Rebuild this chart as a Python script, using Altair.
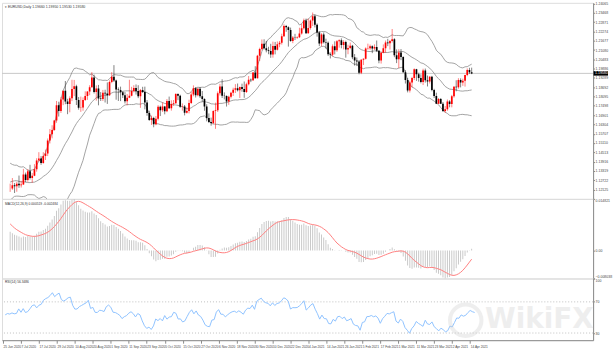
import altair as alt
import pandas as pd

# ---------------- data (EURUSD daily, 26 Jun 2020 .. 16 Apr 2021) ----------------
closes = [1.1219,1.1240,1.1233,1.1250,1.1240,1.1245,1.1309,1.1274,1.1329,1.1287,
1.1300,1.1343,1.1398,1.1412,1.1383,1.1428,1.1444,1.1527,1.1568,1.1595,
1.1655,1.1753,1.1716,1.1790,1.1846,1.1778,1.1762,1.1799,1.1858,1.1876,
1.1787,1.1737,1.1739,1.1787,1.1813,1.1842,1.1869,1.1932,1.1838,1.1861,
1.1796,1.1793,1.1834,1.1829,1.1818,1.1903,1.1936,1.1913,1.1855,1.1851,
1.1837,1.1818,1.1779,1.1802,1.1815,1.1845,1.1864,1.1845,1.1812,1.1851,
1.1838,1.1771,1.1703,1.1659,1.1672,1.1632,1.1666,1.1743,1.1721,1.1746,
1.1715,1.1781,1.1734,1.1761,1.1766,1.1825,1.1814,1.1744,1.1746,1.1705,
1.1717,1.1768,1.1823,1.1862,1.1817,1.1860,1.1812,1.1794,1.1746,1.1672,
1.1646,1.1640,1.1716,1.1722,1.1830,1.1874,1.1814,1.1813,1.1778,1.1808,
1.1834,1.1853,1.1862,1.1849,1.1871,1.1857,1.1838,1.1889,1.1917,1.1914,
1.1963,1.1927,1.2072,1.2114,1.2149,1.2120,1.2106,1.2102,1.2079,1.2134,
1.2110,1.2145,1.2155,1.2197,1.2263,1.2255,1.2236,1.2166,1.2188,1.2187,
1.2190,1.2214,1.2248,1.2298,1.2216,1.2250,1.2297,1.2325,1.2271,1.2221,
1.2150,1.2207,1.2158,1.2155,1.2081,1.2077,1.2132,1.2106,1.2165,1.2170,
1.2140,1.2160,1.2111,1.2121,1.2136,1.2061,1.2040,1.2034,1.1962,1.2045,
1.2052,1.2118,1.2120,1.2133,1.2118,1.2128,1.2104,1.2041,1.2091,1.2120,
1.2156,1.2151,1.2166,1.2177,1.2075,1.2049,1.2092,1.2063,1.1966,1.1915,
1.1848,1.1899,1.1929,1.1985,1.1952,1.1929,1.1902,1.1977,1.1914,1.1906,
1.1937,1.1851,1.1813,1.1763,1.1794,1.1763,1.1716,1.1727,1.1778,1.1762,
1.1812,1.1873,1.1869,1.1915,1.1899,1.1911,1.1948,1.1979,1.1966,1.1958]

highs = [1.1250,1.1286,1.1254,1.1262,1.1302,1.1268,1.1345,1.1321,1.1344,1.1371,
1.1318,1.1375,1.1413,1.1452,1.1427,1.1452,1.1469,1.1540,1.1601,1.1625,
1.1660,1.1781,1.1776,1.1807,1.1847,1.1909,1.1795,1.1811,1.1917,1.1916,
1.1885,1.1806,1.1809,1.1804,1.1843,1.1843,1.1882,1.1966,1.1950,1.1881,
1.1884,1.1838,1.1852,1.1853,1.1900,1.1913,1.1966,1.2011,1.1918,1.1868,
1.1873,1.1843,1.1838,1.1826,1.1917,1.1872,1.1882,1.1887,1.1882,1.1858,
1.1872,1.1873,1.1787,1.1718,1.1687,1.1679,1.1684,1.1754,1.1751,1.1771,
1.1749,1.1793,1.1809,1.1785,1.1787,1.1831,1.1830,1.1821,1.1765,1.1755,
1.1740,1.1789,1.1840,1.1881,1.1870,1.1866,1.1870,1.1845,1.1798,1.1760,
1.1701,1.1674,1.1721,1.1770,1.1842,1.1891,1.1920,1.1836,1.1817,1.1815,
1.1840,1.1866,1.1889,1.1893,1.1873,1.1892,1.1906,1.1898,1.1941,1.1925,
1.1966,1.2004,1.2077,1.2123,1.2176,1.2177,1.2167,1.2129,1.2148,1.2162,
1.2160,1.2163,1.2166,1.2213,1.2273,1.2269,1.2260,1.2252,1.2198,1.2212,
1.2196,1.2251,1.2276,1.2310,1.2310,1.2310,1.2304,1.2349,1.2337,1.2279,
1.2229,1.2216,1.2221,1.2181,1.2163,1.2093,1.2144,1.2164,1.2172,1.2177,
1.2183,1.2171,1.2168,1.2142,1.2156,1.2141,1.2082,1.2060,1.2044,1.2050,
1.2055,1.2125,1.2149,1.2143,1.2138,1.2144,1.2169,1.2108,1.2096,1.2144,
1.2169,1.2180,1.2172,1.2243,1.2184,1.2112,1.2113,1.2114,1.2068,1.1979,
1.1929,1.1911,1.1936,1.1990,1.1987,1.1962,1.1952,1.1988,1.1989,1.1944,
1.1941,1.1942,1.1859,1.1834,1.1800,1.1800,1.1774,1.1749,1.1790,1.1786,
1.1820,1.1877,1.1914,1.1927,1.1926,1.1924,1.1949,1.1990,1.1994,1.1995]

lows = [1.1197,1.1210,1.1190,1.1198,1.1223,1.1225,1.1242,1.1260,1.1262,1.1277,
1.1255,1.1298,1.1327,1.1392,1.1371,1.1378,1.1402,1.1427,1.1508,1.1541,
1.1589,1.1641,1.1681,1.1704,1.1754,1.1760,1.1696,1.1708,1.1780,1.1812,
1.1755,1.1725,1.1711,1.1718,1.1781,1.1788,1.1818,1.1866,1.1829,1.1783,
1.1753,1.1781,1.1781,1.1771,1.1762,1.1813,1.1895,1.1903,1.1789,1.1781,
1.1780,1.1800,1.1765,1.1753,1.1799,1.1811,1.1836,1.1822,1.1799,1.1737,
1.1832,1.1727,1.1686,1.1653,1.1627,1.1612,1.1625,1.1656,1.1684,1.1711,
1.1695,1.1709,1.1730,1.1719,1.1750,1.1763,1.1786,1.1737,1.1719,1.1688,
1.1700,1.1701,1.1761,1.1811,1.1803,1.1810,1.1800,1.1776,1.1718,1.1650,
1.1639,1.1622,1.1631,1.1602,1.1710,1.1816,1.1800,1.1791,1.1745,1.1756,
1.1797,1.1813,1.1832,1.1842,1.1800,1.1840,1.1801,1.1832,1.1881,1.1902,
1.1909,1.1925,1.1925,1.2038,1.2106,1.2112,1.2093,1.2081,1.2058,1.2059,
1.2080,1.2105,1.2126,1.2143,1.2192,1.2225,1.2130,1.2161,1.2152,1.2172,
1.2180,1.2185,1.2207,1.2239,1.2211,1.2213,1.2239,1.2262,1.2253,1.2194,
1.2133,1.2132,1.2150,1.2117,1.2070,1.2054,1.2067,1.2080,1.2096,1.2123,
1.2119,1.2112,1.2059,1.2081,1.2113,1.2049,1.2008,1.2005,1.1952,1.1953,
1.2012,1.2047,1.2110,1.2110,1.2088,1.2108,1.2095,1.2023,1.2021,1.2087,
1.2090,1.2133,1.2111,1.2156,1.2062,1.2024,1.1992,1.2043,1.1962,1.1893,
1.1836,1.1835,1.1868,1.1915,1.1910,1.1905,1.1894,1.1883,1.1899,1.1874,
1.1893,1.1843,1.1800,1.1761,1.1762,1.1762,1.1710,1.1704,1.1718,1.1740,
1.1740,1.1802,1.1843,1.1860,1.1868,1.1878,1.1873,1.1940,1.1955,1.1953]

first_open = 1.1219
opens = [first_open] + closes[:-1]

# closes before the visible window (Apr 2020 .. 25 Jun 2020), used only to warm up the indicators
warmup_closes = [1.0962,1.0856,1.0804,1.0792,1.0891,1.0856,1.0935,1.0937,1.0913,1.0979,
1.0903,1.0860,1.0876,1.0860,1.0859,1.0822,1.0777,1.0821,1.0824,1.0820,1.0874,1.0955,
1.0982,1.0908,1.0838,1.0795,1.0834,1.0839,1.0808,1.0849,1.0817,1.0804,1.0819,1.0915,
1.0922,1.0975,1.0950,1.0900,1.0900,1.0980,1.1007,1.1077,1.1100,
1.1135,1.1171,1.1235,1.1337,1.1290,1.1293,1.1343,1.1374,1.1300,1.1256,1.1325,1.1264,
1.1245,1.1204,1.1177,1.1257,1.1307,1.1250,1.1219]

time_labels = ["25 Jun 2020","7 Jul 2020","17 Jul 2020","29 Jul 2020","10 Aug 2020",
"20 Aug 2020","1 Sep 2020","11 Sep 2020","23 Sep 2020","5 Oct 2020","15 Oct 2020",
"27 Oct 2020","6 Nov 2020","18 Nov 2020","30 Nov 2020","10 Dec 2020","22 Dec 2020",
"4 Jan 2021","14 Jan 2021","26 Jan 2021","5 Feb 2021","17 Feb 2021","1 Mar 2021",
"11 Mar 2021","23 Mar 2021","2 Apr 2021","14 Apr 2021"]
time_label_bars = [-1 + 8 * k for k in range(len(time_labels))]

price_ticks = [1.24065,1.23468,1.22871,1.22274,1.21677,1.21080,1.20483,1.19886,1.19289,
1.18692,1.18095,1.17498,1.16901,1.16304,1.15707,1.15110,1.14513,1.13916,1.13319,
1.12722,1.12125]

rsi_levels = [70, 30]
symbol = "EURUSD,Daily"

# ---------------- indicators (MACD 12,26,9 and RSI 14, as in MT4) ----------------
allc = warmup_closes + closes
W = len(warmup_closes)
n = len(closes)

def ema(vals, period):
    k = 2.0 / (period + 1)
    out = [vals[0]]
    for v in vals[1:]:
        out.append(out[-1] + k * (v - out[-1]))
    return out

e12 = ema(allc, 12)
e26 = ema(allc, 26)
macd_all = [a - b for a, b in zip(e12, e26)]
sig_all = [None] * len(allc)
for i in range(8, len(allc)):
    sig_all[i] = sum(macd_all[i - 8:i + 1]) / 9.0

rsi_all = [None] * len(allc)
gains = [max(allc[i] - allc[i - 1], 0) for i in range(1, len(allc))]
losses = [max(allc[i - 1] - allc[i], 0) for i in range(1, len(allc))]
ag = sum(gains[:14]) / 14.0
al = sum(losses[:14]) / 14.0
for i in range(14, len(allc)):
    if i > 14:
        ag = (ag * 13 + gains[i - 1]) / 14.0
        al = (al * 13 + losses[i - 1]) / 14.0
    rsi_all[i] = 100.0 if al == 0 else 100 - 100 / (1 + ag / al)

df = pd.DataFrame({
    "idx": list(range(n)),
    "open": opens, "high": highs, "low": lows, "close": closes,
    "macd": macd_all[W:], "signal": sig_all[W:], "rsi": rsi_all[W:],
})
df["dir"] = ["up" if c >= o else "down" for o, c in zip(opens, closes)]

dfall = pd.DataFrame({"idx": list(range(-W, n)), "close": allc})

# ---------------- scales ----------------
PW = 594
PX_PER_BAR = 2.257
X0 = -1.443
xs = alt.Scale(domain=[X0, X0 + PW / PX_PER_BAR], nice=False, zero=False)
ys = alt.Scale(domain=[1.11522, 1.24110], nice=False, zero=False)

FONT = "Liberation Sans"
LFS = 3.5
one = pd.DataFrame({"a": [0]})
last = df.iloc[-1]

def raxis(**kw):
    return alt.Axis(orient="right", title=None, grid=False, labelFontSize=LFS, labelPadding=0.5,
                    tickSize=1.5, domainColor="#8a8a8a", tickColor="#8a8a8a", labelColor="#444",
                    labelFont=FONT, labelOverlap=False, **kw)

# ---------------- main price panel ----------------
yaxis = raxis(values=price_ticks, format=".5f")

base = alt.Chart(df)
priceline = alt.Chart(pd.DataFrame({"p": [float(last.close)]})).mark_rule(
    color="#c8c8c8", strokeWidth=1).encode(y=alt.Y("p:Q", scale=ys, axis=yaxis))

bands = alt.Chart(dfall).transform_window(
    mid="mean(close)", sd="stdevp(close)", frame=[-19, 0], sort=[alt.SortField("idx")]
).transform_calculate(
    up="datum.mid + 2*datum.sd", dn="datum.mid - 2*datum.sd"
).transform_filter("datum.idx >= 0").transform_fold(
    ["mid", "up", "dn"], as_=["band", "val"]
).mark_line(color="#8c8c8c", strokeWidth=0.8, clip=True).encode(
    x=alt.X("idx:Q", scale=xs, axis=None),
    y=alt.Y("val:Q", scale=ys, axis=yaxis),
    detail="band:N", order="idx:Q")

ccol = alt.Color("dir:N", scale=alt.Scale(domain=["up", "down"], range=["#ff0000", "#000000"]), legend=None)
wicks = base.mark_rule(strokeWidth=0.9, opacity=0.55, clip=True).encode(
    x=alt.X("idx:Q", scale=xs, axis=None),
    y=alt.Y("low:Q", scale=ys, axis=yaxis), y2="high:Q", color=ccol)
bodies = base.mark_bar(size=1.7, clip=True).encode(
    x=alt.X("idx:Q", scale=xs, axis=None),
    y=alt.Y("open:Q", scale=ys, axis=yaxis), y2="close:Q", color=ccol)

title_txt = "\u25BE " + symbol + "  " + " ".join(f"{v:.5f}" for v in [last.open, last.high, last.low, last.close])
title_main = alt.Chart(one).mark_text(align="left", baseline="top", fontSize=3.5, font=FONT, color="#333").encode(
    x=alt.value(3), y=alt.value(2), text=alt.value(title_txt))

pbox = alt.Chart(pd.DataFrame({"p": [float(last.close)]})).mark_rule(color="#000", strokeWidth=4.5, strokeCap="butt").encode(
    x=alt.value(PW + 0.5), x2=alt.value(PW + 15), y=alt.Y("p:Q", scale=ys, axis=yaxis))
ptxt = alt.Chart(pd.DataFrame({"p": [float(last.close)], "t": [f"{last.close:.5f}"]})).mark_text(
    align="left", baseline="middle", fontSize=LFS, font=FONT, color="#fff").encode(
    x=alt.value(PW + 2), y=alt.Y("p:Q", scale=ys, axis=yaxis), text="t:N")

main = alt.layer(priceline, bands, wicks, bodies, title_main, pbox, ptxt).properties(width=PW, height=197)

# ---------------- MACD panel ----------------
vis = df.dropna(subset=["signal"])
mx = float(max(vis.macd.max(), vis.signal.max()))
mn = float(min(vis.macd.min(), vis.signal.min()))
ms = alt.Scale(domain=[mn, mx], nice=False, zero=False)
maxis = raxis(values=[mx, 0.0, mn], labelFlush=True,
              labelExpr="datum.value == 0 ? '0.00' : format(datum.value, '.6f')")
hist = base.mark_bar(size=0.9, color="#c4c4c4").encode(
    x=alt.X("idx:Q", scale=xs, axis=None),
    y=alt.Y("macd:Q", scale=ms, axis=maxis), y2=alt.datum(0))
sigl = base.mark_line(color="#ff8080", strokeWidth=1).encode(
    x=alt.X("idx:Q", scale=xs, axis=None),
    y=alt.Y("signal:Q", scale=ms, axis=maxis))
mtxt = f"MACD(12,26,9) {last.macd:.6f} {last.signal:.6f}"
title_macd = alt.Chart(one).mark_text(align="left", baseline="top", fontSize=3.3, font=FONT, color="#333").encode(
    x=alt.value(3), y=alt.value(3), text=alt.value(mtxt))
macdp = alt.layer(hist, sigl, title_macd).properties(width=PW, height=80)

# ---------------- RSI panel ----------------
rs = alt.Scale(domain=[20.8, 100], nice=False, zero=False)
rax = raxis(values=[100, 70, 30], labelFlush=True)
xaxis = alt.Axis(values=time_label_bars, title=None, grid=False, labelAlign="left",
                 labelExpr="[" + ",".join("'" + s + "'" for s in time_labels) + "][round((datum.value + 1) / 8)]",
                 labelFontSize=3.2, labelPadding=1, tickSize=3, labelFont=FONT, labelOverlap=False,
                 labelFlush=False, domainColor="#8a8a8a", tickColor="#8a8a8a", labelColor="#444")
lv = alt.Chart(pd.DataFrame({"lv": rsi_levels})).mark_rule(color="#c0c0c0", strokeDash=[1, 2], strokeWidth=1).encode(
    y=alt.Y("lv:Q", scale=rs, axis=rax))
rline = base.mark_line(color="#8fc3ff", strokeWidth=1, clip=True).encode(
    x=alt.X("idx:Q", scale=xs, axis=xaxis),
    y=alt.Y("rsi:Q", scale=rs, axis=rax))
rtxt = f"RSI(14) {last.rsi:.4f}"
title_rsi = alt.Chart(one).mark_text(align="left", baseline="top", fontSize=3.3, font=FONT, color="#333").encode(
    x=alt.value(3), y=alt.value(2), text=alt.value(rtxt))
wm = alt.Chart(one).mark_text(align="center", baseline="middle", fontSize=28, fontWeight="bold",
                             font="DejaVu Sans", color="#d0d0d0", opacity=0.35).encode(
    x=alt.value(540), y=alt.value(42), text=alt.value("WikiFX"))
wmc = alt.Chart(one).mark_point(shape="circle", size=1000, strokeWidth=4, color="#d0d0d0", opacity=0.35).encode(
    x=alt.value(466), y=alt.value(42))
rsip = alt.layer(lv, rline, title_rsi, wmc, wm).properties(width=PW, height=62)

chart = alt.vconcat(main, macdp, rsip, spacing=0, bounds="flush").resolve_scale(y="independent").properties(
    padding={"left": 1, "top": 0, "right": 0, "bottom": 0}
).configure_view(stroke="#9a9a9a", strokeWidth=1.2).configure(background="#ffffff")

chart.save("out.html", embed_options={"renderer": "svg", "actions": False})
